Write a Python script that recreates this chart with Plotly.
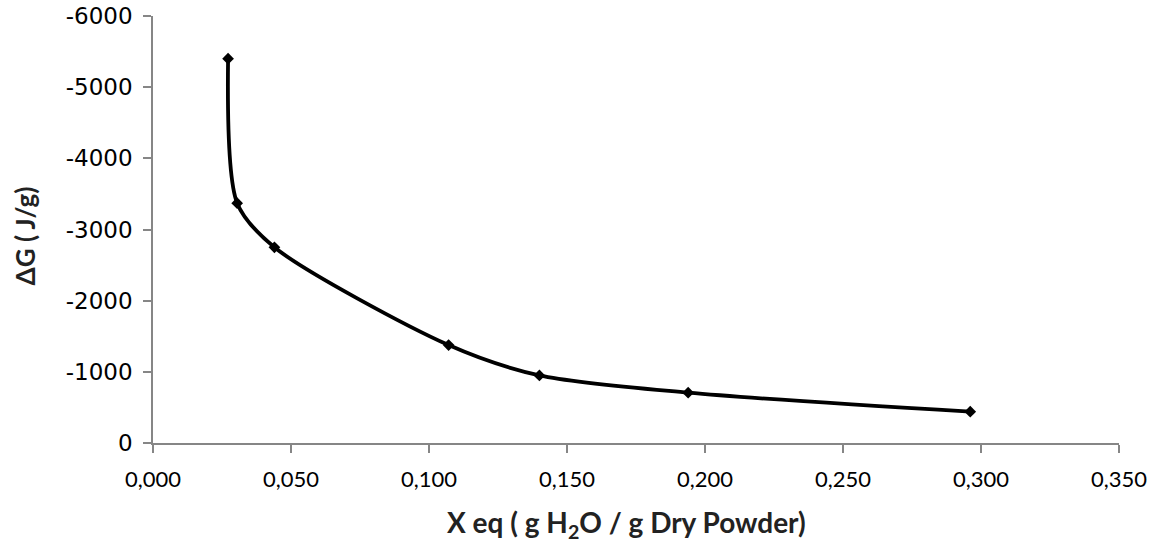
import plotly.graph_objects as go

x_eq = [0.0272, 0.0305, 0.0440, 0.1071, 0.1400, 0.1939, 0.2961]
delta_g = [-5400, -3370, -2750, -1376, -950, -707, -440]

x_tickvals = [0.0, 0.05, 0.10, 0.15, 0.20, 0.25, 0.30, 0.35]
x_ticktext = ["0,000", "0,050", "0,100", "0,150", "0,200", "0,250", "0,300", "0,350"]
y_tickvals = [0, -1000, -2000, -3000, -4000, -5000, -6000]
y_ticktext = ["0", "-1000", "-2000", "-3000", "-4000", "-5000", "-6000"]

fig = go.Figure()
fig.add_trace(go.Scatter(
    x=x_eq, y=delta_g, mode="lines+markers",
    line=dict(color="black", width=3.8, shape="spline", smoothing=0.8),
    marker=dict(symbol="diamond", size=9, color="black"),
    showlegend=False,
))

axis_color = "#868686"
fig.update_layout(
    width=1159, height=548,
    margin=dict(l=153, r=40, t=16, b=105),
    paper_bgcolor="white", plot_bgcolor="white",
    xaxis=dict(
        range=[0, 0.35], tickvals=x_tickvals, ticktext=x_ticktext, automargin=False,
        showgrid=False, zeroline=False, showline=True, linecolor=axis_color, linewidth=1.5,
        ticks="outside", ticklen=8, tickcolor=axis_color, tickwidth=1.5,
        tickfont=dict(family="Lato", size=22, color="black"),
        ticklabelstandoff=8,
    ),
    yaxis=dict(
        range=[0, -6000], tickvals=y_tickvals, ticktext=y_ticktext, automargin=False,
        showgrid=False, zeroline=False, showline=True, linecolor=axis_color, linewidth=1.5,
        ticks="outside", ticklen=8, tickcolor=axis_color, tickwidth=1.5,
        tickfont=dict(family="DejaVu Sans", size=23, color="black"),
        ticklabelstandoff=6,
    ),
    annotations=[
        dict(text="X eq ( g H<sub>2</sub>O / g Dry Powder)", xref="paper", yref="paper",
             x=0.49, y=-0.19, xanchor="center", yanchor="middle", showarrow=False,
             font=dict(family="Lato", size=28, color="#222222", weight="bold")),
        dict(text="ΔG ( J/g)", xref="paper", yref="paper", textangle=-90,
             x=-0.133, y=0.485, xanchor="center", yanchor="middle", showarrow=False,
             font=dict(family="Lato", size=26, color="#222222", weight="bold")),
    ],
)

fig.write_html("out.html")
